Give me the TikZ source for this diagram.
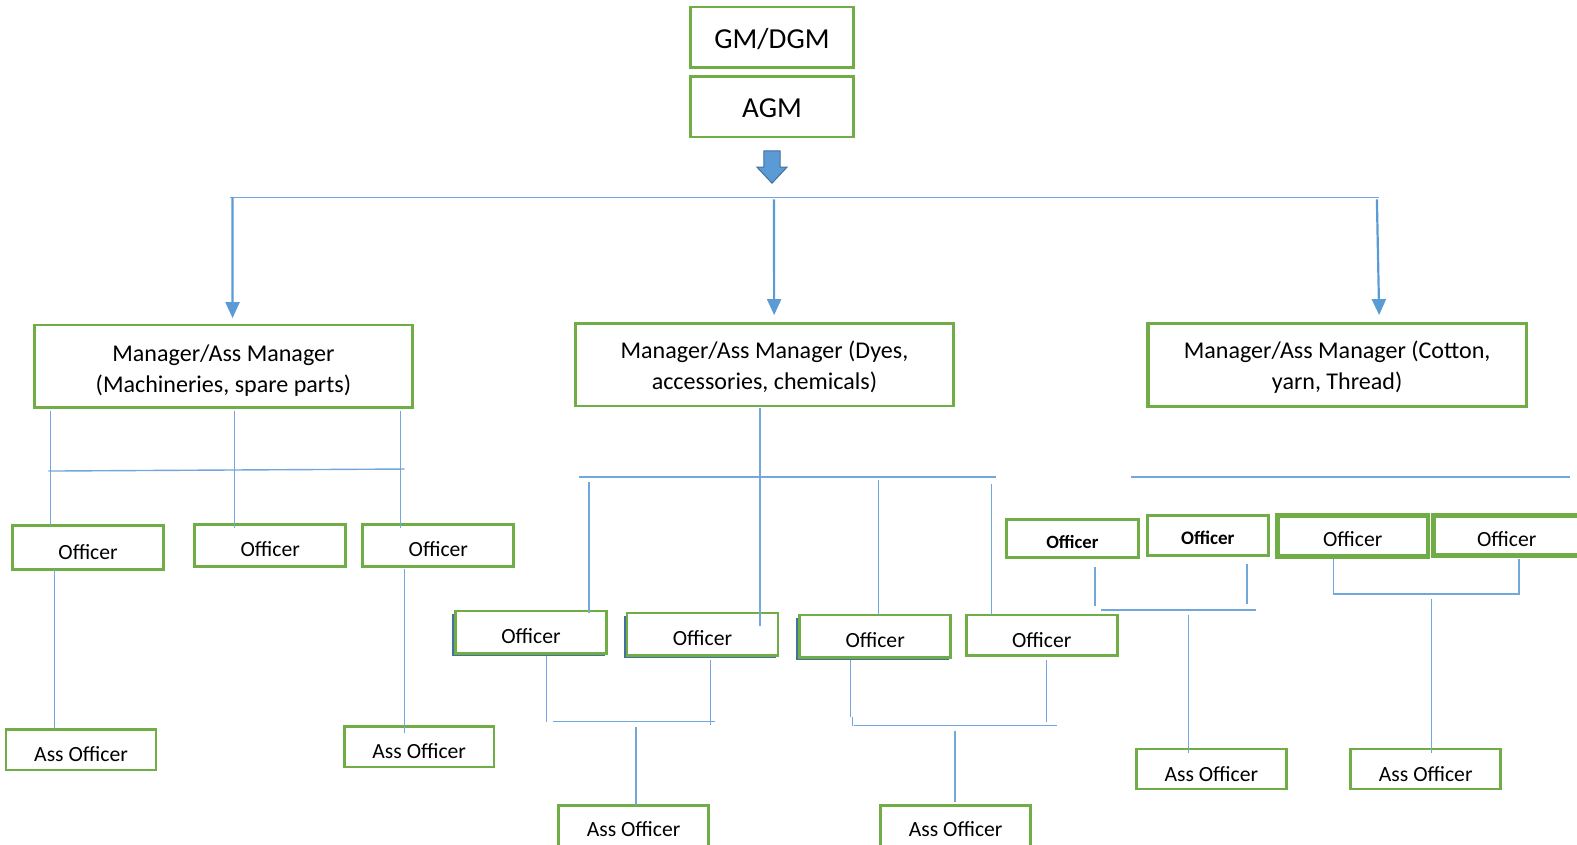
\documentclass[tikz,border=0pt]{standalone}
\usepackage{fontspec}
\setmainfont{Carlito}
\usetikzlibrary{arrows.meta}
\definecolor{boxgreen}{HTML}{70AD47}
\definecolor{lineblue}{HTML}{72A7DB}
\definecolor{arrowblue}{HTML}{5B9BD5}
\definecolor{darkblue}{HTML}{41719C}
\begin{document}
\begin{tikzpicture}[x=1pt,y=-1pt,
  box/.style={draw=boxgreen,line width=2.6pt,fill=white,inner sep=0pt,
    minimum width=#1},
  box/.default=150pt,
  mgr/.style={box=376pt,minimum height=82pt,align=center,
    font=\fontsize{23.9}{31}\selectfont,text depth=0pt},
  top/.style={box=162pt,minimum height=60pt,font=\fontsize{28.8}{34}\selectfont,
    text height=22pt,text depth=0pt},
  off/.style={box=150pt,font=\fontsize{21.5}{25}\selectfont,text depth=0pt},
  conn/.style={draw=lineblue,line width=1.4pt},
  arr/.style={draw=arrowblue,line width=2.2pt,-{Triangle[width=14pt,length=16pt]}},
  shadowbox/.style={fill=darkblue,draw=none}
]
\useasboundingbox (0,0) rectangle (1577,845);
\clip (0,0) rectangle (1577,845);
\begin{scope}[scale=1.0065,transform shape]

% top boxes
\node[top] (gm) at (767,37) {GM/DGM};
\node[top] (agm) at (767,106) {AGM};

% block arrow
\filldraw[fill=arrowblue,draw=darkblue,line width=1pt]
  (759,150) -- (775,150) -- (775,166) -- (782,166) -- (767,182) -- (752,166) -- (759,166) -- cycle;

% top bus and arrows
\coordinate (busL) at (228,196);
\coordinate (busR) at (1370,196);
\draw[conn] (busL) -- (busR);

% managers
\node[mgr,text height=52pt] (mL) at (222,364) {Manager/Ass Manager\\(Machineries, spare parts)};
\node[mgr,text height=49pt] (mM) at (759.5,362.5) {Manager/Ass Manager (Dyes,\\accessories, chemicals)};
\node[mgr,text height=49pt,line width=3.2pt] (mR) at (1328.5,362.5) {Manager/Ass Manager (Cotton,\\yarn, Thread)};

\coordinate (tL) at (231,316);
\coordinate (tM) at (769,313);
\coordinate (tR) at (1370,313);
\draw[arr] (231,196) -- (tL);
\draw[arr] (769,198) -- (tM);
\draw[arr] (1368,198) -- (tR);

% ---------- left subtree ----------
\node[off,minimum height=44pt,text height=24pt] (o1) at (87.5,544) {Officer};
\node[off,minimum height=42pt,text height=22pt,line width=3.2pt] (o2) at (268.5,542) {Officer};
\node[off,minimum height=42pt,text height=22pt,line width=3.2pt] (o3) at (435.5,542) {Officer};
\draw[conn] (50,408) -- (50,522);
\draw[conn] (233,408) -- (233,525);
\draw[conn] (398,408) -- (398,525);
\draw[conn] (48,468) -- (402,466);

\node[off,box=149pt,minimum height=40pt,text height=24pt] (a1) at (80.5,745) {Ass Officer};
\node[off,box=149pt,minimum height=40pt,text height=24pt] (a2) at (416.5,742) {Ass Officer};
\draw[conn] (54,565) -- (54,724);
\draw[conn] (402,565) -- (402,728);

% ---------- middle subtree ----------
\fill[shadowbox] (449,610) rectangle (601,652);
\fill[shadowbox] (620,612) rectangle (771,654);
\fill[shadowbox] (791,614) rectangle (943,656);
\node[off,minimum height=42pt,text height=22pt] (m1) at (527.5,628) {Officer};
\node[off,minimum height=42pt,text height=22pt] (m2) at (698,630) {Officer};
\node[off,minimum height=42pt,text height=22pt] (m3) at (869.5,632) {Officer};
\node[off,minimum height=40pt,text height=24pt] (m4) at (1035,631) {Officer};

\draw[conn] (755,405) -- (755,622);
\draw[conn] (575,474) -- (990,474);
\draw[conn] (585,479) -- (585,609);
\draw[conn] (873,477) -- (873,611);
\draw[conn] (985,481) -- (985,611);

\node[off,box=149pt,minimum height=50pt,text height=12pt] (am1) at (629.5,825) {Ass Officer};
\node[off,box=149pt,minimum height=50pt,text height=12pt] (am2) at (949.5,825) {Ass Officer};

\draw[conn] (543,652) -- (543,717);
\draw[conn] (706,656) -- (706,720);
\draw[conn] (549,717) -- (710,717);
\draw[conn] (632,722) -- (632,800);

\draw[conn] (845,656) -- (845,712) (847,712) -- (847,721);
\draw[conn] (1040,656) -- (1040,717);
\draw[conn] (848,721) -- (1050,721);
\draw[conn] (949,726) -- (949,797);

% ---------- right subtree ----------
\draw[conn] (1124,474) -- (1560,474);
\node[off,box=131pt,minimum height=38pt,text height=20pt,
  font=\fontsize{18.6}{22}\selectfont\bfseries] (r1) at (1065.5,535) {Officer};
\node[off,box=120pt,minimum height=40pt,text height=18pt,
  font=\fontsize{19}{22}\selectfont\bfseries] (r2) at (1200,532) {Officer};
\node[off,minimum height=41pt,text height=21pt,line width=4.5pt] (r3) at (1344,532.5) {Officer};
\node[off,box=146pt,minimum height=40pt,text height=21pt,line width=4.5pt] (r4) at (1497,532) {Officer};

\node[off,box=149pt,minimum height=40pt,text height=24pt] (ar1) at (1203.5,764) {Ass Officer};
\node[off,box=149pt,minimum height=40pt,text height=24pt] (ar2) at (1416.5,764) {Ass Officer};

\draw[conn] (1088,563) -- (1088,602);
\draw[conn] (1239,560) -- (1239,600);
\draw[conn] (1094,606) -- (1248,606);
\draw[conn] (1181,611) -- (1181,748);

\draw[conn] (1325,555) -- (1325,591);
\draw[conn] (1509,555) -- (1509,591);
\draw[conn] (1325,590) -- (1510,590);
\draw[conn] (1422,595) -- (1422,748);
\end{scope}
\end{tikzpicture}
\end{document}
